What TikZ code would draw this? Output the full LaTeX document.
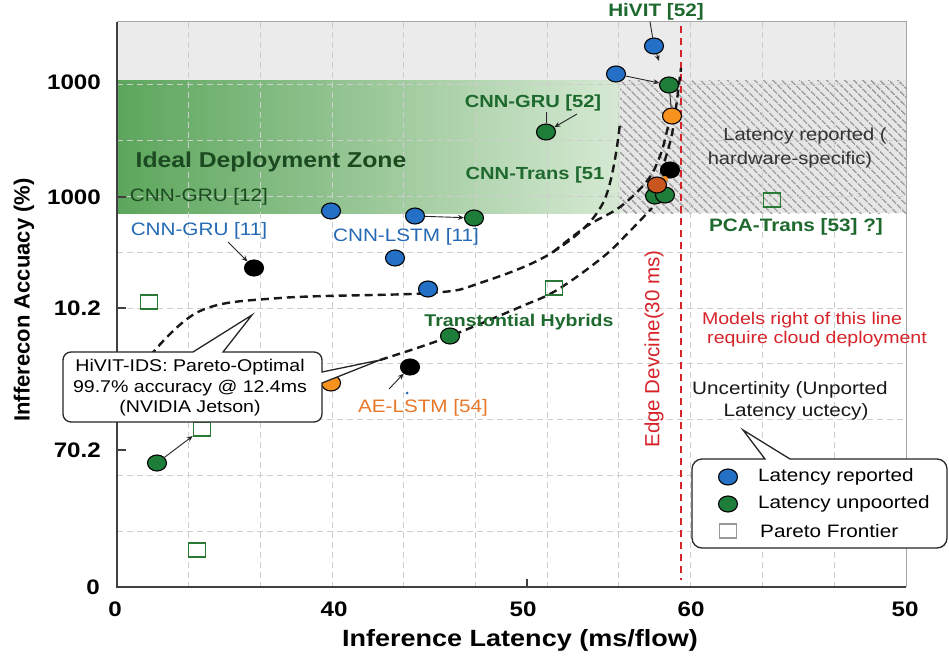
\documentclass[tikz,border=0pt]{standalone}
\usepackage{fontspec}
\setmainfont{Liberation Sans}[FakeStretch=1.15]
\newfontfamily\uprightlabel{Liberation Sans}
\usetikzlibrary{shapes.geometric,arrows.meta,patterns.meta}

\definecolor{ptblue}{HTML}{2370C6}
\definecolor{ptgreen}{HTML}{1F7D3A}
\definecolor{ptorange}{HTML}{F7921E}
\definecolor{ptbrown}{HTML}{C9561F}
\definecolor{txblue}{HTML}{2469B3}
\definecolor{txgreen}{HTML}{1E6A2E}
\definecolor{txdkgreen}{HTML}{1B4A20}
\definecolor{txorange}{HTML}{E8782A}
\definecolor{edgered}{HTML}{D7232A}
\definecolor{bandgray}{HTML}{EBEBEB}
\definecolor{hatchbg}{HTML}{E6E6E6}
\definecolor{hatchfg}{HTML}{9C9C9C}
\definecolor{gridgray}{HTML}{CDCDCD}
\definecolor{zoneL}{RGB}{92,166,92}
\definecolor{zoneM}{RGB}{158,204,156}
\definecolor{zoneR}{RGB}{214,233,211}
\definecolor{sqgreen}{HTML}{2A7A36}

\newcommand{\fsz}[2]{\fontsize{#1}{#2}\selectfont}

\begin{document}
\begin{tikzpicture}[x=1pt,y=-1pt,
  dot/.style={ellipse, draw=black, line width=1.1pt, minimum width=19pt, minimum height=16pt, inner sep=0pt},
  bluedot/.style={dot, fill=ptblue},
  greendot/.style={dot, fill=ptgreen},
  orangedot/.style={dot, fill=ptorange},
  browndot/.style={dot, fill=ptbrown},
  blackdot/.style={dot, fill=black},
  sq/.style={rectangle, draw=sqgreen, line width=1.6pt, minimum width=17pt, minimum height=14pt, inner sep=0pt},
  arr/.style={-{Stealth[length=6pt,width=5pt]}, line width=0.9pt, black!85},
  lead/.style={line width=0.9pt, black!85},
  trend/.style={line width=2.4pt, dash pattern=on 8pt off 5pt, black!90},
  gridln/.style={gridgray, line width=0.9pt, dash pattern=on 6pt off 4pt},
  callout/.style={draw=black!85, line width=1.3pt, fill=white},
  ticklab/.style={font=\bfseries\fsz{21}{24}, inner sep=1pt},
  lab/.style={inner sep=1pt}
]
\useasboundingbox (0,0) rectangle (949,661);
\fill[white] (0,0) rectangle (949,661);

% ---- plot backgrounds ----
\fill[bandgray] (117,22) rectangle (906,80);
\shade[left color=zoneL, middle color=zoneM, right color=zoneR] (117,80) rectangle (620,213);
\fill[hatchbg] (620,80) rectangle (906,213);
\fill[pattern={Lines[angle=-45,distance=6.5pt,line width=1.7pt]}, pattern color=hatchfg] (620,80) rectangle (906,213);

% ---- grid ----
\foreach \k in {1,...,10} \draw[gridln] ({117+71.7*\k},22) -- ({117+71.7*\k},587);
\foreach \k in {1,...,9} \draw[gridln] (117,{587-55.8*\k}) -- (906,{587-55.8*\k});

% ---- frame and ticks ----
\draw[black!35, line width=1pt] (117,22) -- (906,22) -- (906,587);
\draw[black!75, line width=1.3pt] (117,22) -- (117,587) -- (906,587);
\foreach \yy in {197,308,450} \draw[black!75, line width=1.2pt] (117,\yy) -- (126,\yy);
\draw[black!75, line width=1.2pt] (527,587) -- (527,579);

% ---- tick labels ----
\node[ticklab, anchor=east] (y1) at (102,82) {1000};
\node[ticklab, anchor=east] (y2) at (102,197) {1000};
\node[ticklab, anchor=east] (y3) at (102,308) {10.2};
\node[ticklab, anchor=east] (y4) at (102,450) {70.2};
\node[ticklab, anchor=east] (y5) at (101,587) {0};
\node[ticklab] (x1) at (115,609) {0};
\node[ticklab] (x2) at (334,609) {40};
\node[ticklab] (x3) at (523,609) {50};
\node[ticklab] (x4) at (691,609) {60};
\node[ticklab] (x5) at (905,609) {50};

% ---- axis titles ----
\node[lab, font=\bfseries\fsz{23.5}{26}] (xtitle) at (520,640) {Inference Latency (ms/flow)};
\node[lab, rotate=90, font=\uprightlabel\bfseries\fsz{22}{25}] (ytitle) at (24,300) {Infferecon Accuacy (\%)};

% ---- edge-device latency limit ----
\draw[edgered, line width=2.6pt, dash pattern=on 7pt off 5pt] (681,26) -- (681,580);
\node[lab, rotate=90, text=edgered, font=\uprightlabel\fsz{20.5}{23}] (edgelab) at (654,349) {Edge Devcine(30 ms)};

% ---- trend curves ----
\draw[trend] plot[smooth, tension=0.6] coordinates {(150,356) (200,311) (280,298) (430,293) (480,283) (553,252) (603,203) (620,123)};
\draw[trend] plot[smooth, tension=0.6] coordinates {(553,252) (587,226) (620,207) (647,181) (660,156) (667,131) (670,118)};
\draw[trend] plot[smooth, tension=0.6] coordinates {(657,186) (665,160) (672,134) (677,100) (681,68)};
\draw[trend] plot[smooth, tension=0.6] coordinates {(380,360) (420,347) (453,335) (520,307) (557,290) (603,257) (630,231) (652,208)};

% ---- region texts ----
\node[lab, text=txdkgreen, font=\bfseries\fsz{21.5}{24}] (zone) at (271,162) {Ideal Deployment Zone};
\node[lab, text=black!80, font=\fsz{17.5}{20}] (hw1) at (805,136) {Latency reported (};
\node[lab, text=black!80, font=\fsz{17.5}{20}] (hw2) at (790,160) {hardware-specific)};
\node[lab, text=edgered, font=\fsz{17}{19}] (cloud1) at (802,320) {Models right of this line};
\node[lab, text=edgered, font=\fsz{17}{19}] (cloud2) at (817,339) {require cloud deployment};
\node[lab, text=black!90, font=\fsz{18}{21}] (unc1) at (790,390) {Uncertinity (Unported};
\node[lab, text=black!90, font=\fsz{18}{21}] (unc2) at (796,412) {Latency uctecy)};

% ---- Pareto frontier squares ----
\node[sq] (s1) at (772,200) {};
\node[sq] (s2) at (554,288) {};
\node[sq] (s3) at (149,302) {};
\node[sq] (s4) at (202,429) {};
\node[sq] (s5) at (197,550) {};

% ---- model points ----
\node[bluedot] (b1) at (654,46) {};
\node[bluedot] (b2) at (616,74) {};
\node[bluedot] (b3) at (331,211) {};
\node[bluedot] (b4) at (415,216) {};
\node[bluedot] (b5) at (395,258) {};
\node[bluedot] (b6) at (428,289) {};
\node[greendot] (g1) at (669,85) {};
\node[greendot] (g2) at (546,132) {};
\node[greendot] (g3) at (474,218) {};
\node[greendot] (g4) at (450,336) {};
\node[greendot] (g5) at (157,463) {};
\node[orangedot] (o1) at (672,116) {};
\node[orangedot] (o2) at (331,383) {};
\node[greendot] (g6) at (655,196) {};
\node[greendot] (g7) at (665,195) {};
\node[blackdot] (k1) at (670,170) {};
\node[circle, fill=ptorange, inner sep=0pt, minimum size=6pt] (o3) at (665,179) {};
\node[browndot] (r1) at (657,185) {};
\node[blackdot] (k2) at (254,268) {};
\node[blackdot] (k3) at (410,367) {};
\node[circle, fill=txblue, inner sep=0pt, minimum size=3pt] (tiny) at (407,393) {};

% ---- model labels ----
\node[lab, text=txgreen, font=\bfseries\fsz{18}{21}] (hivit) at (656,12) {HiVIT [52]};
\node[lab, text=txgreen, font=\bfseries\fsz{17.5}{20}] (g2lab) at (533,103) {CNN-GRU [52]};
\node[lab, text=txgreen, font=\bfseries\fsz{17.5}{20}] (translab) at (535,175) {CNN-Trans [51};
\node[lab, text=txdkgreen, font=\fsz{18}{21}] (gru12) at (199,197) {CNN-GRU [12]};
\node[lab, text=txblue, font=\fsz{18}{21}] (gru11) at (199,231) {CNN-GRU [11]};
\node[lab, text=txblue, font=\fsz{18}{21}] (lstm11) at (406,237) {CNN-LSTM [11]};
\node[lab, text=txgreen, font=\bfseries\fsz{17}{20}] (hyb) at (519,322) {Transtontial Hybrids};
\node[lab, text=txorange, font=\fsz{18}{21}] (aelstm) at (423,408) {AE-LSTM [54]};
\node[lab, text=txgreen, font=\bfseries\fsz{18}{21}] (pca) at (796,227) {PCA-Trans [53] ?]};

% ---- leaders and arrows ----
\coordinate (b1tip) at (659,61);
\coordinate (g2tail) at (577,114);
\coordinate (k2tail) at (228,242);
\coordinate (k3tail) at (389,389);
\draw[lead] ([xshift=-6pt]hivit.south) -- (b1);
\draw[arr] (b1) -- (b1tip);
\draw[arr] (b2) -- (g1);
\draw[lead] (g1) -- (o1);
\draw[lead] (g2lab.south -| g2) -- (g2);
\draw[arr] (g2tail) -- (g2);
\draw[arr] (b4) -- (g3);
\draw[arr] (k2tail) -- (k2);
\draw[arr] (g5) -- (s4);
\draw[arr] (k3tail) -- (k3);

% ---- HiVIT-IDS callout ----
\draw[callout] (71,352) -- (193,352) -- (252,315) -- (223,352) -- (314,352)
  arc[start angle=-90, end angle=0, radius=8] -- (322,372) -- (380,360) -- (322,383) -- (322,414)
  arc[start angle=0, end angle=90, radius=8] -- (71,422)
  arc[start angle=90, end angle=180, radius=8] -- (63,360)
  arc[start angle=180, end angle=270, radius=8] -- cycle;
\node[lab, align=center, font=\fsz{17}{20.5}] (hivitids) at (190,388) {HiVIT-IDS: Pareto-Optimal\\99.7\% accuracy @ 12.4ms\\(NVIDIA Jetson)};

% ---- legend callout ----
\draw[callout] (702,459) -- (765,459) -- (743,430) -- (790,459) -- (937,459)
  arc[start angle=-90, end angle=0, radius=10] -- (947,538)
  arc[start angle=0, end angle=90, radius=10] -- (702,548)
  arc[start angle=90, end angle=180, radius=10] -- (692,469)
  arc[start angle=180, end angle=270, radius=10] -- cycle;
\node[bluedot] (legb) at (728,477) {};
\node[greendot] (legg) at (728,504) {};
\node[rectangle, draw=black!40, line width=1.6pt, minimum width=17pt, minimum height=14pt, inner sep=0pt] (legs) at (728,531) {};
\node[lab, anchor=west, font=\fsz{18}{21}] (legbt) at (757,477) {Latency reported};
\node[lab, anchor=west, font=\fsz{18}{21}] (leggt) at (757,504) {Latency unpoorted};
\node[lab, anchor=west, font=\fsz{18}{21}] (legst) at (759,531) {Pareto Frontier};
\end{tikzpicture}
\end{document}
